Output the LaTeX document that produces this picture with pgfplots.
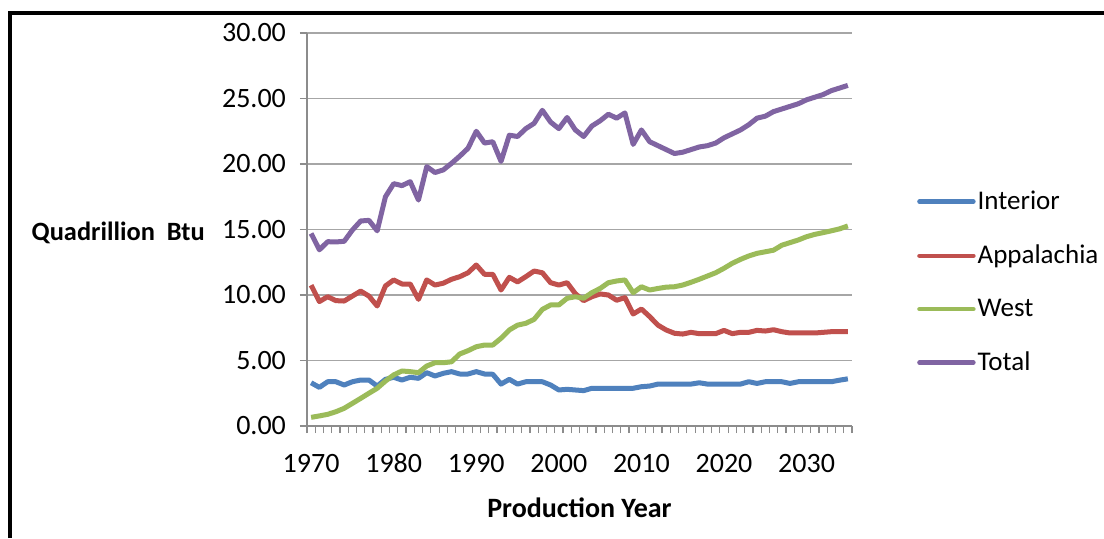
\documentclass[border=0pt]{standalone}
\usepackage{fontspec}
\setmainfont{Carlito}
\usepackage{pgfplots}
\usepackage{pgfplotstable}
\pgfplotsset{compat=1.18}

\definecolor{cInterior}{HTML}{4F81BD}
\definecolor{cAppal}{HTML}{C0504D}
\definecolor{cWest}{HTML}{9BBB59}
\definecolor{cTotal}{HTML}{8064A2}
\definecolor{gridc}{RGB}{166,166,166}
\definecolor{axisc}{RGB}{140,140,140}

% coal production by region, quadrillion Btu
\pgfplotstableread{
year interior appal west total
1970 3.30 10.75 0.66 14.70
1971 2.95 9.50 0.77 13.45
1972 3.38 9.87 0.89 14.07
1973 3.38 9.57 1.09 14.05
1974 3.13 9.54 1.35 14.10
1975 3.38 9.92 1.73 14.96
1976 3.51 10.30 2.11 15.65
1977 3.51 9.92 2.50 15.70
1978 3.05 9.16 2.88 14.90
1979 3.56 10.69 3.43 17.50
1980 3.72 11.15 3.90 18.50
1981 3.51 10.84 4.20 18.35
1982 3.72 10.84 4.15 18.65
1983 3.64 9.67 4.07 17.25
1984 4.07 11.15 4.58 19.80
1985 3.82 10.76 4.83 19.35
1986 4.02 10.90 4.83 19.55
1987 4.15 11.20 4.90 20.05
1988 3.97 11.40 5.50 20.60
1989 3.97 11.70 5.75 21.20
1990 4.15 12.29 6.05 22.50
1991 3.97 11.58 6.18 21.60
1992 3.95 11.58 6.18 21.70
1993 3.20 10.38 6.70 20.20
1994 3.56 11.35 7.33 22.20
1995 3.20 11.00 7.70 22.10
1996 3.38 11.40 7.84 22.70
1997 3.38 11.83 8.14 23.10
1998 3.38 11.70 8.90 24.10
1999 3.13 10.94 9.24 23.20
2000 2.75 10.76 9.24 22.70
2001 2.80 10.94 9.75 23.55
2002 2.75 10.10 9.87 22.60
2003 2.70 9.57 9.75 22.10
2004 2.88 9.87 10.18 22.90
2005 2.88 10.08 10.50 23.30
2006 2.88 10.00 10.94 23.80
2007 2.88 9.60 11.07 23.50
2008 2.88 9.80 11.15 23.90
2009 2.88 8.55 10.18 21.50
2010 3.00 8.93 10.63 22.60
2011 3.05 8.35 10.38 21.70
2012 3.20 7.70 10.50 21.40
2013 3.20 7.33 10.60 21.10
2014 3.20 7.08 10.63 20.80
2015 3.20 7.02 10.76 20.90
2016 3.20 7.15 10.97 21.10
2017 3.30 7.05 11.20 21.30
2018 3.20 7.05 11.45 21.40
2019 3.20 7.05 11.70 21.60
2020 3.20 7.30 12.04 22.00
2021 3.20 7.05 12.42 22.30
2022 3.20 7.15 12.72 22.60
2023 3.38 7.15 12.98 23.00
2024 3.25 7.30 13.18 23.50
2025 3.38 7.25 13.30 23.65
2026 3.38 7.35 13.42 24.00
2027 3.38 7.20 13.80 24.20
2028 3.25 7.10 14.00 24.40
2029 3.38 7.10 14.20 24.60
2030 3.38 7.10 14.45 24.90
2031 3.38 7.10 14.63 25.10
2032 3.38 7.15 14.76 25.30
2033 3.38 7.20 14.90 25.60
2034 3.50 7.20 15.05 25.80
2035 3.60 7.20 15.27 26.00
}\coaldata

\begin{document}
\begin{tikzpicture}
\path[use as bounding box] (0,0) rectangle (552pt,269pt);
\fill[white] (0,0) rectangle (552pt,269pt);
% outer frame of the picture (left and top edges only)
\draw[line width=2pt] (5pt,0) -- (5pt,262.75pt) -- (553pt,262.75pt);

\begin{axis}[
    at={(153.5pt,56pt)}, anchor=south west,
    scale only axis,
    width=272.5pt, height=196.5pt,
    xmin=1969.5, xmax=2035.5,
    ymin=0, ymax=30,
    axis lines*=left,
    axis line style={axisc, line width=0.8pt},
    tick align=outside,
    tick style={axisc, line width=0.6pt},
    major tick length=3.5pt,
    xtick={1969.5,1970.5,...,2035.5},
    xticklabels={},
    extra x ticks={1970,1980,1990,2000,2010,2020,2030},
    extra x tick labels={1970,1980,1990,2000,2010,2020,2030},
    extra x tick style={major tick length=0pt, grid=none},
    ytick={0,5,...,30},
    ymajorgrids,
    grid style={gridc, line width=0.8pt},
    /pgf/number format/assume math mode=true,
    y tick label style={/pgf/number format/fixed, /pgf/number format/fixed zerofill, /pgf/number format/precision=2},
    tick label style={font=\fontsize{14}{16}\selectfont, text=black},
    yticklabel style={xshift=-3.5pt},
    xticklabel style={anchor=base, yshift=-23pt},
    xlabel={\bfseries Production Year},
    xlabel style={font=\fontsize{14}{16}\selectfont, at={(axis description cs:0.5,0)}, anchor=center, yshift=-41pt},
    ylabel={\bfseries Quadrillion\hspace{0.45em}Btu},
    ylabel style={font=\fontsize{13.2}{15}\selectfont, rotate=-90, at={(axis description cs:0,0.491)}, anchor=east, inner sep=0pt, xshift=-51pt},
    legend style={at={(1.119,0.366)}, anchor=west, draw=none, fill=none,
        font=\fontsize{13.5}{15}\selectfont, inner sep=0pt, row sep=14.2pt,
        nodes={inner sep=1pt, anchor=west}},
    legend cell align=left,
    legend image code/.code={\draw[#1, line width=2.2pt, line cap=round] (0pt,0pt) -- (27pt,0pt);},
    every axis plot/.append style={line width=2.5pt, line join=round, mark=none},
]
\addplot[cInterior] table[x=year, y=interior] {\coaldata};
\addplot[cAppal] table[x=year, y=appal] {\coaldata};
\addplot[cWest] table[x=year, y=west] {\coaldata};
\addplot[cTotal] table[x=year, y=total] {\coaldata};
\legend{Interior, Appalachia, West, Total}
\end{axis}
\end{tikzpicture}
\end{document}
